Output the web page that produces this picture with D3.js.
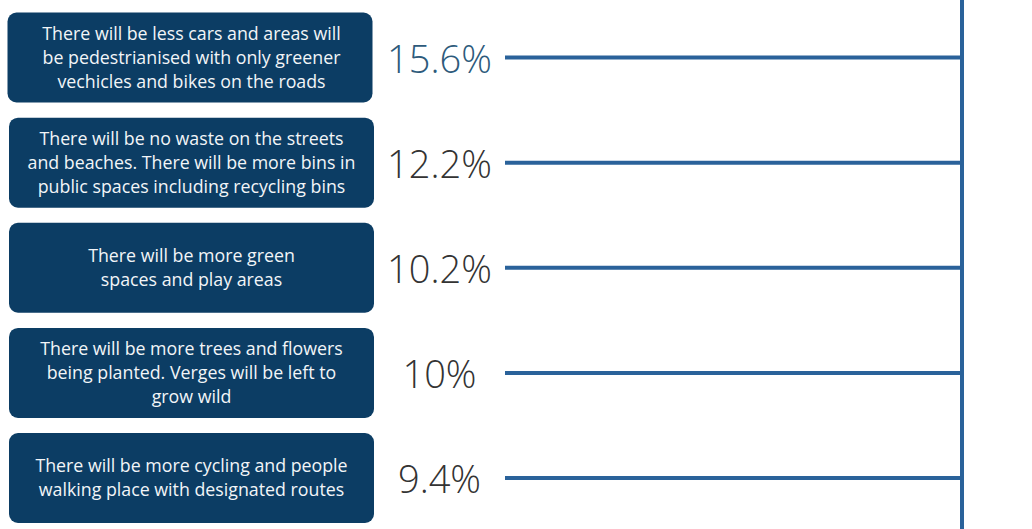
<!DOCTYPE html>
<html>
<head>
<meta charset="utf-8">
<script src="https://cdn.jsdelivr.net/npm/d3@7"></script>
<style>
  html, body { margin: 0; padding: 0; background: #ffffff; }
  svg { display: block; }
</style>
</head>
<body>
<svg id="chart" width="1032" height="529"></svg>
<script>
// Responses: statement (one entry per line of text) and share of answers
const statements = [
  ["There will be less cars and areas will", "be pedestrianised with only greener", "vechicles and bikes on the roads"],
  ["There will be no waste on the streets", "and beaches. There will be more bins in", "public spaces including recycling bins"],
  ["There will be more green", "spaces and play areas"],
  ["There will be more trees and flowers", "being planted. Verges will be left to", "grow wild"],
  ["There will be more cycling and people", "walking place with designated routes"]
];
const shares = [15.6, 12.2, 10.2, 10, 9.4];
const shareLabels = ["15.6%", "12.2%", "10.2%", "10%", "9.4%"];
const labelColors = ["#2d5a7b", "#333333", "#333333", "#333333", "#333333"];

const W = 1032, H = 529;
const svg = d3.select("#chart");

const idx = d3.range(statements.length);
const y = d3.scalePoint().domain(idx).range([57.5, 478]);

const boxX = 9, boxW = 365, boxH = 90;
const labelX = 439.5;
const lineX0 = 505, spineX = 962;

// vertical spine on the right
svg.append("line")
  .attr("x1", spineX).attr("x2", spineX)
  .attr("y1", 0).attr("y2", H)
  .attr("stroke", "#2a629a").attr("stroke-width", 4);

const rows = svg.selectAll("g.row").data(idx).join("g")
  .attr("class", "row")
  .attr("transform", i => `translate(0,${y(i)})`);

// connector lines
rows.append("line")
  .attr("x1", lineX0).attr("x2", spineX)
  .attr("y1", 0).attr("y2", 0)
  .attr("stroke", "#2a629a").attr("stroke-width", 4);

// statement boxes
rows.append("rect")
  .attr("x", i => i === 0 ? boxX - 1.5 : boxX)
  .attr("y", -boxH / 2)
  .attr("width", boxW)
  .attr("height", boxH)
  .attr("rx", 9).attr("ry", 9)
  .attr("fill", "#0c3d64");

rows.append("text")
  .attr("x", boxX + boxW / 2)
  .attr("text-anchor", "middle")
  .attr("font-family", "'Open Sans', sans-serif")
  .attr("font-size", 17.8)
  .attr("fill", "#f2f5f8")
  .each(function (i) {
    const lines = statements[i];
    const lh = 24;
    const start = -((lines.length - 1) * lh) / 2;
    d3.select(this).selectAll("tspan").data(lines).join("tspan")
      .attr("x", boxX + boxW / 2)
      .attr("y", (d, k) => start + k * lh)
      .attr("dy", "0.35em")
      .text(d => d);
  });

// percentage labels
rows.append("text")
  .attr("x", labelX)
  .attr("y", 2)
  .attr("dy", "0.35em")
  .attr("text-anchor", "middle")
  .attr("font-family", "'Open Sans', sans-serif")
  .attr("font-weight", 300)
  .attr("font-size", 38)
  .attr("fill", i => labelColors[i])
  .text(i => shareLabels[i]);
</script>
</body>
</html>
